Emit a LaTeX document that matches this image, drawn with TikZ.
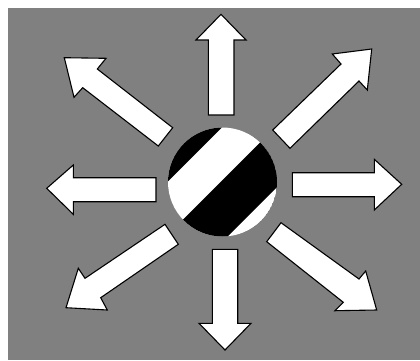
\documentclass[tikz,border=0pt]{standalone}
\usepackage{xcolor}
\usepackage{tikz}
\usetikzlibrary{calc}
\definecolor{panelgray}{gray}{0.5}

\begin{document}
\begin{tikzpicture}[x=1pt, y=-1pt]
\tikzset{
    blockarrow/.style={draw=black, fill=white, line width=1.1pt, line join=miter},
    stripe/.style={fill=black}
}
\useasboundingbox (0,0) rectangle (420,360);
\fill[white] (0,0) rectangle (420,360);
\fill[panelgray] (8,8) rectangle (420,360);

\coordinate (ctr) at (222.5,182);
\begin{scope}
    \clip (ctr) circle (54.5);
    \fill[white] (ctr) circle (54.5);
    \fill[stripe] (150,199.3) -- (300,49.3) -- (150,49.3) -- cycle;
    \fill[stripe] (150,252.5) -- (300,102.5) -- (300,164) -- (150,314) -- cycle;
\end{scope}

\filldraw[blockarrow] (208.3,115) -- (208.3,40) -- (196,40) -- (221,14.3) -- (246,40) -- (234,40) -- (234,115) -- cycle;
\filldraw[blockarrow] (212.3,249.3) -- (212.3,323.3) -- (199,323.3) -- (225,350) -- (251,323.3) -- (237.7,323.3) -- (237.7,249.3) -- cycle;
\filldraw[blockarrow] (156,177.7) -- (73.3,177.7) -- (73.3,165) -- (46.7,188.3) -- (73.3,214.3) -- (73.3,201.7) -- (156,201.7) -- cycle;
\filldraw[blockarrow] (292.3,172.7) -- (374.3,172.7) -- (374.3,159.3) -- (401.7,184.3) -- (374.3,210) -- (374.3,196.7) -- (292.3,196.7) -- cycle;

\filldraw[blockarrow] (272.7,130) -- (341,64) -- (332.3,54) -- (371.7,49) -- (367.3,90) -- (359,81) -- (290,148.3) -- cycle;
\filldraw[blockarrow] (172.7,127.7) -- (97.3,69) -- (106,58.3) -- (64.3,57.7) -- (74,97.3) -- (82.7,87.7) -- (158.3,146) -- cycle;
\filldraw[blockarrow] (165,224.3) -- (85,278.3) -- (78.3,268.3) -- (66,307.7) -- (107.3,310) -- (100.7,297.7) -- (178.3,244.3) -- cycle;
\filldraw[blockarrow] (281,222.7) -- (359,279) -- (365.7,271) -- (376.7,310) -- (335,310.7) -- (343.3,302.3) -- (266.7,241.7) -- cycle;
\end{tikzpicture}
\end{document}
